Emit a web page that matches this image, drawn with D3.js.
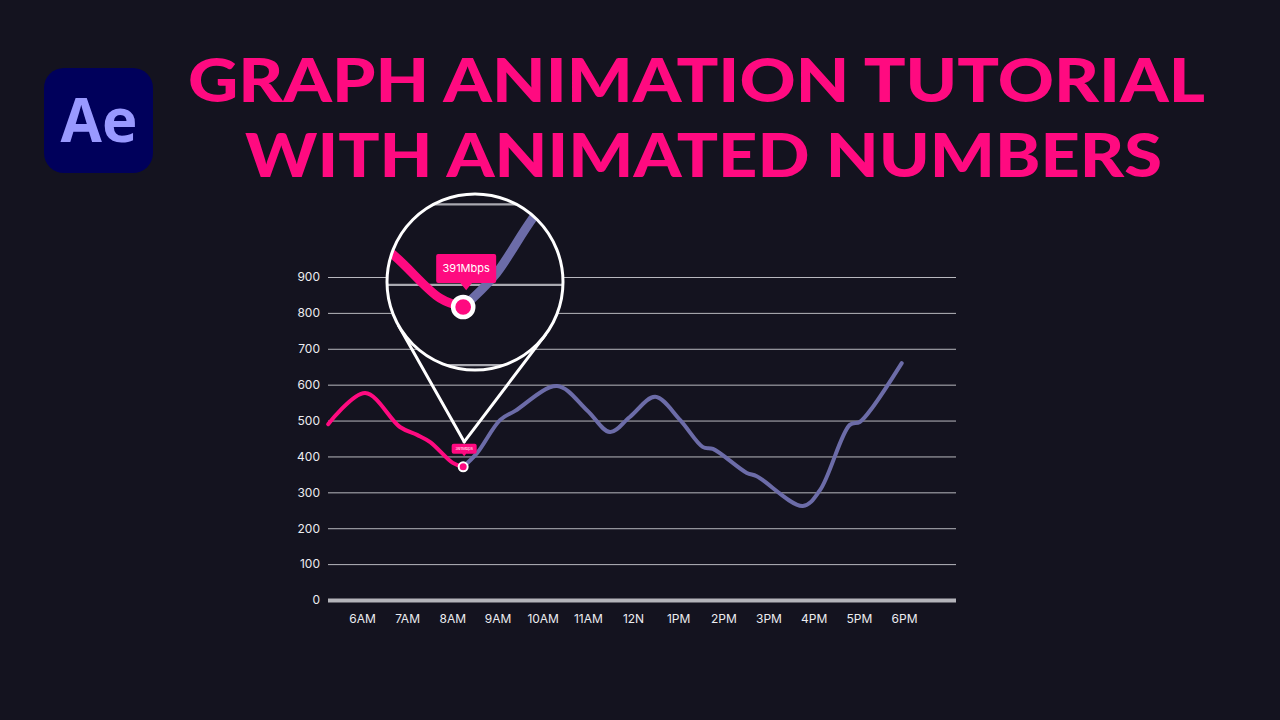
<!DOCTYPE html>
<html>
<head>
<meta charset="utf-8">
<script src="https://cdn.jsdelivr.net/npm/d3@7"></script>
<style>
  html, body { margin: 0; padding: 0; background: #14131f; }
  svg { display: block; }
</style>
</head>
<body>
<svg width="1280" height="720"></svg>
<script>
// data (hour of day, Mbps)
const hours = [5.25, 6.07, 6.84, 7.22, 7.51, 8.01, 8.24, 8.55, 9.06, 9.39, 10.32, 10.98, 11.49, 11.93, 12.49, 13.04, 13.55, 13.77, 14.52, 14.74, 15.76, 16.14, 16.8, 17.02, 17.31, 17.95];
const speeds = [490, 577, 482, 460, 440, 382, 371, 410, 502, 527, 596, 529, 468, 510, 566, 502, 426, 421, 354, 345, 262, 306, 488, 496, 538, 660];
const hourTicks = [6, 7, 8, 9, 10, 11, 12, 13, 14, 15, 16, 17, 18];
const hourLabels = ["6AM", "7AM", "8AM", "9AM", "10AM", "11AM", "12N", "1PM", "2PM", "3PM", "4PM", "5PM", "6PM"];
const speedTicks = [0, 100, 200, 300, 400, 500, 600, 700, 800, 900];
const markerIndex = 6;
const markerLabel = "391Mbps";
const titleLines = ["GRAPH ANIMATION TUTORIAL", "WITH ANIMATED NUMBERS"];

const PINK = "#ff0a80", PURPLE = "#6c6ca8", BG = "#14131f";

const svg = d3.select("svg");
const points = hours.map((h, i) => ({ h, v: speeds[i] }));

const x = d3.scaleLinear().domain([6, 18]).range([362, 904]);
const y = d3.scaleLinear().domain([0, 900]).range([600, 277]);
const left = 328, right = 956;

// logo
const logo = svg.append("g");
logo.append("rect")
  .attr("x", 44).attr("y", 68).attr("width", 109).attr("height", 105)
  .attr("rx", 20).attr("fill", "#00005b");
logo.append("text")
  .attr("x", 99).attr("y", 142)
  .attr("text-anchor", "middle")
  .attr("font-family", "Open Sans, sans-serif")
  .attr("font-weight", 700).attr("font-size", 60)
  .attr("fill", "#9999ff")
  .text("Ae");

// title
svg.selectAll(".title")
  .data(titleLines)
  .enter()
  .append("text")
  .attr("class", "title")
  .attr("x", (d, i) => (i ? 245 : 188))
  .attr("y", (d, i) => (i ? 177 : 102))
  .attr("textLength", (d, i) => (i ? 917 : 1017))
  .attr("lengthAdjust", "spacingAndGlyphs")
  .attr("font-family", "Lato, sans-serif")
  .attr("font-weight", 900).attr("font-size", 61)
  .attr("fill", PINK)
  .text(d => d);

// grid + y labels
function drawGrid(g, withText) {
  const ax = g.append("g")
    .attr("transform", `translate(${left},0)`)
    .call(d3.axisLeft(y).tickValues(speedTicks).tickSize(-(right - left)).tickPadding(8));
  ax.select(".domain").remove();
  ax.selectAll("line")
    .attr("stroke", d => (d === 0 ? "#b4b4ba" : "#b8b8be"))
    .attr("stroke-width", d => (d === 0 ? 4 : 1));
  if (withText) {
    ax.selectAll("text")
      .attr("fill", "#ececf0")
      .attr("font-family", "Inter, sans-serif")
      .attr("font-size", 12);
  } else {
    ax.selectAll("text").remove();
  }
  return ax;
}
drawGrid(svg, true);

// x labels
const xa = svg.append("g")
  .attr("transform", "translate(0,606)")
  .call(d3.axisBottom(x).tickValues(hourTicks).tickSize(0).tickPadding(8)
    .tickFormat((d, i) => hourLabels[i]));
xa.select(".domain").remove();
xa.selectAll("text")
  .attr("fill", "#ececf0")
  .attr("font-family", "Inter, sans-serif")
  .attr("font-size", 12);

const line = d3.line().x(d => x(d.h)).y(d => y(d.v)).curve(d3.curveCatmullRom.alpha(0.5));
const done = points.slice(0, markerIndex + 1);
const rest = points.slice(markerIndex);

function drawSeries(g) {
  g.append("path").datum(rest).attr("d", line)
    .attr("fill", "none").attr("stroke", PURPLE).attr("stroke-width", 4)
    .attr("stroke-linecap", "round");
  g.append("path").datum(done).attr("d", line)
    .attr("fill", "none").attr("stroke", PINK).attr("stroke-width", 4)
    .attr("stroke-linecap", "round");
  g.append("circle")
    .attr("cx", x(done[markerIndex].h)).attr("cy", y(done[markerIndex].v))
    .attr("r", 4.5).attr("fill", PINK)
    .attr("stroke", "#fff").attr("stroke-width", 2);
}
drawSeries(svg);

const mx = x(points[markerIndex].h), my = y(points[markerIndex].v);

function tooltip(g, cx, bottom, w, h, fs) {
  const top = bottom - h;
  g.append("path")
    .attr("d", `M${cx - w / 2},${top + 2}q0,-2 2,-2h${w - 4}q2,0 2,2v${h - 4}q0,2 -2,2h${-w / 2 + 2 + h * 0.2}l${-h * 0.2},${h * 0.25}l${-h * 0.2},${-h * 0.25}h${-w / 2 + 2 + h * 0.2}q-2,0 -2,-2z`)
    .attr("fill", PINK);
  g.append("text")
    .attr("x", cx).attr("y", top + h / 2 + fs * 0.36)
    .attr("text-anchor", "middle")
    .attr("font-family", "Inter, sans-serif")
    .attr("font-size", fs).attr("fill", "#fff")
    .text(markerLabel);
}
tooltip(svg, mx + 1, my - 13, 25, 10, 4);

// magnifier
const cc = [475, 282], cr = 88;
const apex = [mx + 1, my - 25];
const dx = cc[0] - apex[0], dy = cc[1] - apex[1];
const dist = Math.hypot(dx, dy);
const base = Math.atan2(dy, dx), off = Math.asin(cr / dist);
const tlen = Math.sqrt(dist * dist - cr * cr);
[base - off, base + off].forEach(a => {
  svg.append("line")
    .attr("x1", apex[0]).attr("y1", apex[1])
    .attr("x2", apex[0] + tlen * Math.cos(a)).attr("y2", apex[1] + tlen * Math.sin(a))
    .attr("stroke", "#fff").attr("stroke-width", 3).attr("stroke-linecap", "round");
});

svg.append("clipPath").attr("id", "lens")
  .append("circle").attr("cx", cc[0]).attr("cy", cc[1]).attr("r", cr);
const lens = svg.append("g").attr("clip-path", "url(#lens)");
lens.append("circle").attr("cx", cc[0]).attr("cy", cc[1]).attr("r", cr).attr("fill", BG);
const k = 2.24;
const zoomed = lens.append("g")
  .attr("transform", `translate(${mx},${cc[1] + 25}) scale(${k}) translate(${-mx},${-my})`);
const zg = drawGrid(zoomed, false);
zg.selectAll("line").attr("stroke", "#a9a9b0");
drawSeries(zoomed);
tooltip(lens, mx + 3, cc[1] + 1, 60, 29, 11);

svg.append("circle").attr("cx", cc[0]).attr("cy", cc[1]).attr("r", cr)
  .attr("fill", "none").attr("stroke", "#fff").attr("stroke-width", 3);
</script>
</body>
</html>
